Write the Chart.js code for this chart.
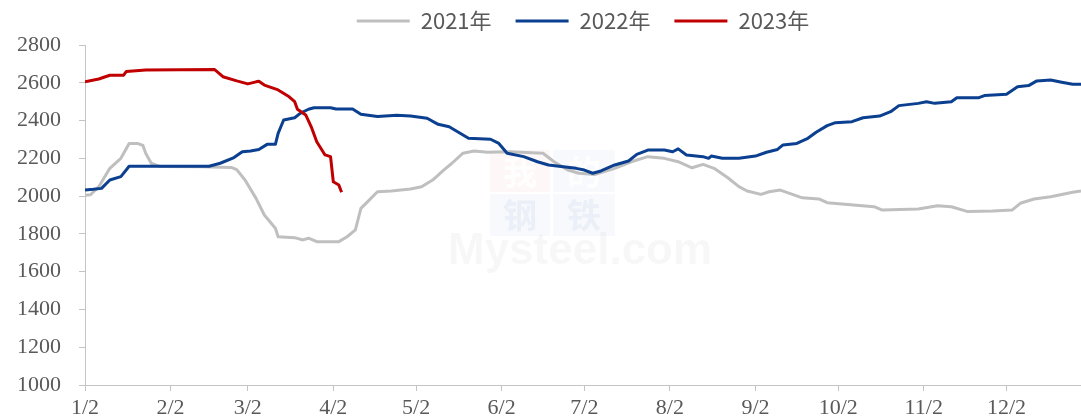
<!DOCTYPE html>
<html>
<head>
<meta charset="utf-8">
<script src="https://cdn.jsdelivr.net/npm/chart.js@4.4.1/dist/chart.umd.min.js"></script>
<style>
  html, body { margin: 0; padding: 0; background: #fff; }
</style>
</head>
<body>
<canvas id="priceChart" width="1081" height="418"></canvas>
<script>
// x axis: days counted from Jan 2, ticks on the 2nd of every month
const tickDays = [0, 31, 59, 90, 120, 151, 181, 212, 243, 273, 304, 334];
const tickLabels = ['1/2', '2/2', '3/2', '4/2', '5/2', '6/2', '7/2', '8/2', '9/2', '10/2', '11/2', '12/2'];

const days2021 = [0,2,5,9,13,16,19,21,22,24,27,42,53,55,58,62,65,69,70,76,79,81,84,92,95,98,100,103,106,111,118,122,126,130,133,137,141,146,154,166,170,175,179,185,192,198,204,210,215,220,224,228,233,237,240,245,248,252,260,266,269,286,289,302,309,314,320,329,336,339,344,350,358,361];
const vals2021 = [2005,2007,2050,2147,2200,2279,2279,2268,2227,2174,2157,2155,2152,2140,2085,1988,1900,1830,1785,1780,1768,1777,1759,1759,1785,1821,1935,1979,2023,2027,2038,2050,2085,2138,2174,2227,2239,2232,2235,2227,2182,2138,2121,2115,2147,2182,2209,2200,2182,2150,2168,2147,2097,2050,2027,2009,2023,2032,1991,1985,1965,1944,1926,1932,1949,1944,1918,1921,1926,1962,1985,1997,2020,2027];

const days2022 = [0,3,6,9,13,16,45,49,54,57,60,63,66,69,70,72,76,78,81,83,89,91,97,100,106,113,118,124,128,132,139,147,150,153,159,164,168,178,181,184,187,192,197,200,204,210,213,215,218,224,226,227,231,237,243,247,251,253,258,262,265,269,272,278,282,288,292,295,302,305,308,314,316,324,326,334,338,342,345,350,354,358,361];
const vals2022 = [2032,2036,2041,2085,2103,2158,2158,2174,2204,2235,2239,2247,2274,2274,2332,2403,2415,2438,2460,2468,2468,2461,2461,2433,2421,2428,2424,2412,2380,2367,2306,2301,2279,2227,2209,2182,2165,2147,2138,2121,2133,2165,2186,2221,2244,2244,2235,2250,2218,2209,2200,2212,2200,2200,2212,2232,2247,2271,2279,2306,2338,2373,2389,2394,2415,2424,2447,2479,2491,2500,2491,2500,2521,2521,2532,2539,2579,2585,2610,2615,2603,2592,2592];

const days2023 = [0,5,9,14,15,22,47,50,55,59,62,63,65,70,74,76,77,80,82,84,87,89,90,92,93];
const vals2023 = [2605,2620,2640,2640,2660,2668,2670,2632,2610,2594,2605,2608,2588,2562,2526,2500,2460,2430,2367,2288,2218,2209,2076,2059,2020];

const seriesNames = ['2021年', '2022年', '2023年'];

function toPoints(days, vals) {
  return days.map((d, i) => ({ x: d, y: vals[i] }));
}

const axisColor = '#c4c4c4';
const labelColor = '#595959';
const serifFont = { family: '"Liberation Serif", "Times New Roman", serif', size: 22, lineHeight: 1.2 };

// fixed frame: legend band on top, y axis on the left, x axis below
const frame = {
  id: 'frame',
  beforeLayout(chart) {
    const lg = chart.legend;
    if (lg && !lg._fixedFit) {
      const fit = lg.fit;
      lg.fit = function () { fit.call(this); this.height = 45; };
      lg._fixedFit = true;
    }
  },
  afterLayout(chart) {
    const lg = chart.legend;
    if (lg) { lg.top = -14; lg.bottom = lg.top + lg.height; }
  }
};

// very faint Mysteel watermark behind the lines
const watermark = {
  id: 'watermark',
  beforeDatasetsDraw(chart) {
    const ctx = chart.ctx;
    ctx.save();
    ctx.fillStyle = 'rgba(220, 70, 70, 0.045)';
    ctx.fillRect(490, 150, 60, 42);
    ctx.fillStyle = 'rgba(70, 110, 190, 0.04)';
    ctx.fillRect(553, 150, 62, 42);
    ctx.fillRect(490, 194, 60, 42);
    ctx.fillRect(553, 194, 62, 42);
    ctx.font = 'bold 34px "Noto Sans CJK SC", sans-serif';
    ctx.textAlign = 'center';
    ctx.textBaseline = 'middle';
    ctx.fillStyle = 'rgba(255, 255, 255, 0.9)';
    ctx.fillText('我', 520, 172);
    ctx.fillText('的', 584, 172);
    ctx.fillStyle = 'rgba(70, 110, 190, 0.07)';
    ctx.fillText('钢', 520, 215);
    ctx.fillText('铁', 584, 215);
    ctx.font = 'bold 44px "Liberation Sans", Arial, sans-serif';
    ctx.fillStyle = 'rgba(0, 0, 0, 0.03)';
    ctx.textAlign = 'left';
    ctx.fillText('Mysteel.com', 448, 252);
    ctx.restore();
  }
};

const ctx = document.getElementById('priceChart').getContext('2d');

new Chart(ctx, {
  type: 'line',
  data: {
    datasets: [
      {
        label: seriesNames[0],
        data: toPoints(days2021, vals2021),
        borderColor: '#bfbfbf',
        backgroundColor: '#bfbfbf',
        borderWidth: 3,
        order: 3
      },
      {
        label: seriesNames[1],
        data: toPoints(days2022, vals2022),
        borderColor: '#0b3f8f',
        backgroundColor: '#0b3f8f',
        borderWidth: 3,
        order: 2
      },
      {
        label: seriesNames[2],
        data: toPoints(days2023, vals2023),
        borderColor: '#c00000',
        backgroundColor: '#c00000',
        borderWidth: 3,
        order: 1
      }
    ]
  },
  options: {
    responsive: false,
    animation: false,
    devicePixelRatio: 1,
    layout: { padding: 0 },
    elements: {
      point: { radius: 0, hoverRadius: 0 },
      line: { tension: 0, borderJoinStyle: 'round' }
    },
    plugins: {
      legend: {
        position: 'top',
        fullSize: false,
        labels: {
          usePointStyle: true,
          pointStyle: 'line',
          pointStyleWidth: 53,
          padding: 24,
          color: labelColor,
          font: { family: '"Microsoft YaHei", "Noto Sans CJK SC", sans-serif', size: 22 },
          sort: (a, b) => a.datasetIndex - b.datasetIndex
        }
      },
      tooltip: { enabled: false }
    },
    scales: {
      x: {
        type: 'linear',
        min: 0,
        max: 361,
        afterBuildTicks(scale) {
          scale.ticks = tickDays.map(d => ({ value: d }));
        },
        afterFit(scale) { scale.height = 33; },
        grid: { display: true, drawOnChartArea: false, drawTicks: true, tickLength: 6, color: axisColor },
        border: { display: true, color: axisColor, width: 1 },
        ticks: {
          padding: 4,
          maxRotation: 0,
          autoSkip: false,
          color: labelColor,
          font: serifFont,
          callback: (value, index) => tickLabels[index]
        }
      },
      y: {
        min: 1000,
        max: 2800,
        afterFit(scale) { scale.width = 85; },
        grid: { display: true, drawOnChartArea: false, drawTicks: true, tickLength: 6, color: axisColor },
        border: { display: true, color: axisColor, width: 1 },
        ticks: {
          stepSize: 200,
          padding: 18,
          color: labelColor,
          font: serifFont,
          callback: value => String(value)
        }
      }
    }
  },
  plugins: [frame, watermark]
});
</script>
</body>
</html>
